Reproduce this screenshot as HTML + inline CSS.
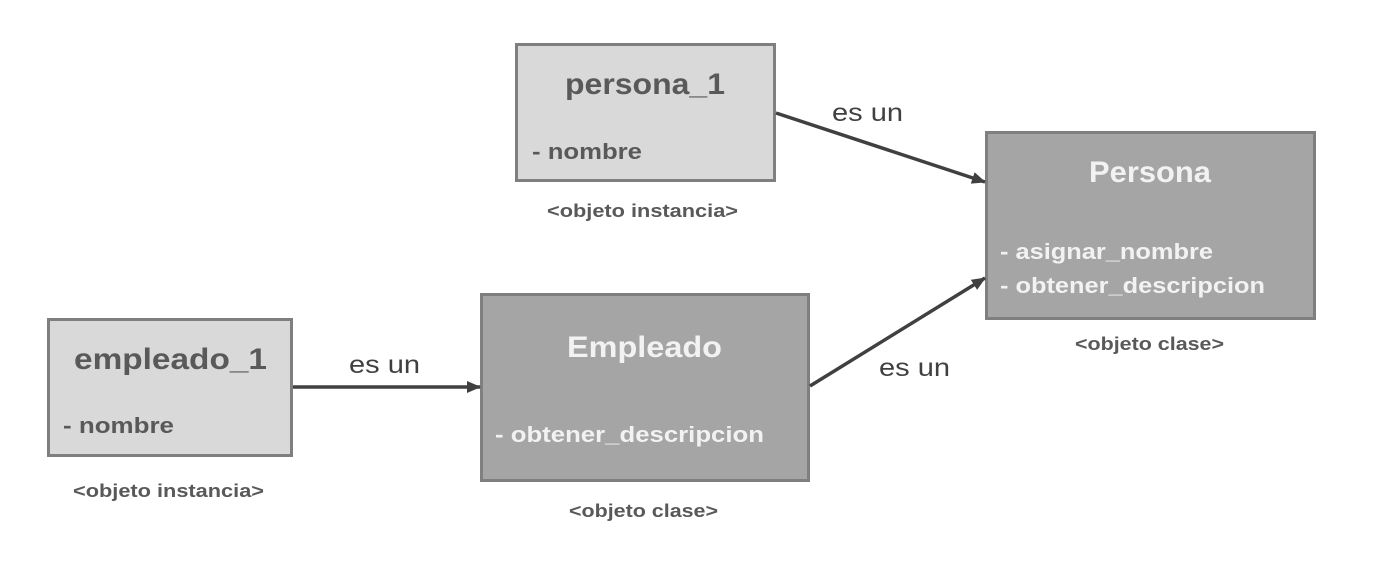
<!DOCTYPE html>
<html><head><meta charset="utf-8"><style>
html,body{margin:0;padding:0;background:#fff;}
svg{display:block;}
text{font-family:"Liberation Sans",sans-serif;}
</style></head><body>
<svg width="1376" height="565" viewBox="0 0 1376 565" xmlns="http://www.w3.org/2000/svg">
<defs>
<marker id="ah" markerWidth="14" markerHeight="12" refX="13" refY="6" orient="auto" markerUnits="userSpaceOnUse">
<path d="M0,0 L14,6 L0,12 z" fill="#404040"/>
</marker>
</defs>
<rect x="516.5" y="44.5" width="258" height="136" fill="#d9d9d9" stroke="#7f7f7f" stroke-width="3"/>
<rect x="986.5" y="132.5" width="328" height="186" fill="#a5a5a5" stroke="#7f7f7f" stroke-width="3"/>
<rect x="48.5" y="319.5" width="243" height="136" fill="#d9d9d9" stroke="#7f7f7f" stroke-width="3"/>
<rect x="481.5" y="294.5" width="327" height="186" fill="#a5a5a5" stroke="#7f7f7f" stroke-width="3"/>
<line x1="776" y1="113" x2="985" y2="182" stroke="#404040" stroke-width="3.5" marker-end="url(#ah)"/>
<line x1="810" y1="386" x2="985" y2="278" stroke="#404040" stroke-width="3.5" marker-end="url(#ah)"/>
<line x1="293" y1="387" x2="480" y2="387" stroke="#404040" stroke-width="3.5" marker-end="url(#ah)"/>
<g font-weight="bold" fill="#595959" lengthAdjust="spacingAndGlyphs">
<text x="565" y="94" font-size="30" textLength="160" lengthAdjust="spacingAndGlyphs">persona_1</text>
<text x="532" y="159" font-size="22" textLength="110" lengthAdjust="spacingAndGlyphs">- nombre</text>
<text x="547" y="217" font-size="18" textLength="191" lengthAdjust="spacingAndGlyphs">&lt;objeto instancia&gt;</text>
<text x="74" y="369" font-size="30" textLength="193" lengthAdjust="spacingAndGlyphs">empleado_1</text>
<text x="63" y="433" font-size="22" textLength="111" lengthAdjust="spacingAndGlyphs">- nombre</text>
<text x="73" y="497" font-size="18" textLength="191" lengthAdjust="spacingAndGlyphs">&lt;objeto instancia&gt;</text>
<text x="569" y="517" font-size="18" textLength="149" lengthAdjust="spacingAndGlyphs">&lt;objeto clase&gt;</text>
<text x="1075" y="350" font-size="18" textLength="149" lengthAdjust="spacingAndGlyphs">&lt;objeto clase&gt;</text>
</g>
<g font-weight="bold" fill="#f2f2f2">
<text x="1089" y="182" font-size="30" textLength="122" lengthAdjust="spacingAndGlyphs">Persona</text>
<text x="1000" y="259" font-size="22" textLength="213" lengthAdjust="spacingAndGlyphs">- asignar_nombre</text>
<text x="1000" y="293" font-size="22" textLength="265" lengthAdjust="spacingAndGlyphs">- obtener_descripcion</text>
<text x="567" y="357" font-size="30" textLength="155" lengthAdjust="spacingAndGlyphs">Empleado</text>
<text x="495" y="442" font-size="22" textLength="269" lengthAdjust="spacingAndGlyphs">-  obtener_descripcion</text>
</g>
<g fill="#404040" font-size="25">
<text x="832" y="121" textLength="71" lengthAdjust="spacingAndGlyphs">es un</text>
<text x="349" y="373" textLength="71" lengthAdjust="spacingAndGlyphs">es un</text>
<text x="879" y="376" textLength="71" lengthAdjust="spacingAndGlyphs">es un</text>
</g>
</svg>
</body></html>
